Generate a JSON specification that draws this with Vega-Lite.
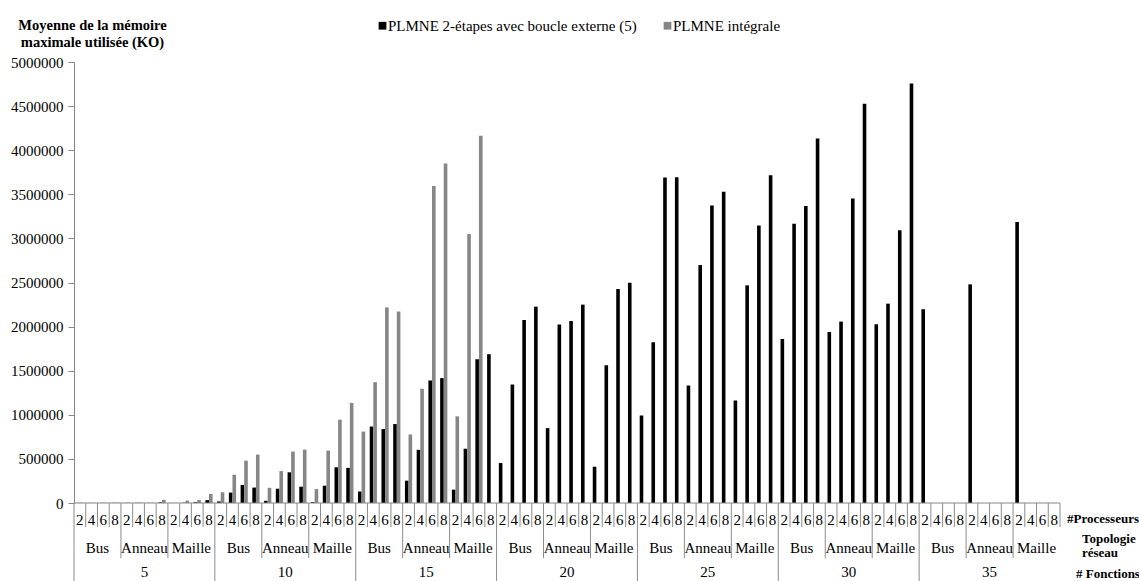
{
  "$schema": "https://vega.github.io/schema/vega-lite/v6.json",
  "width": 986,
  "height": 519,
  "autosize": {"type": "none"},
  "padding": {"left": 74, "top": 62, "right": 79, "bottom": 0},
  "background": "white",
  "config": {"view": {"stroke": null}, "font": "Times New Roman, Liberation Serif, DejaVu Serif, serif"},
  "datasets": {
    "groups": [
      {"g": "5|Bus|2", "f": "5", "t": "Bus", "p": "2"}, {"g": "5|Bus|4", "f": "5", "t": "Bus", "p": "4"}, {"g": "5|Bus|6", "f": "5", "t": "Bus", "p": "6"}, {"g": "5|Bus|8", "f": "5", "t": "Bus", "p": "8"},
      {"g": "5|Anneau|2", "f": "5", "t": "Anneau", "p": "2"}, {"g": "5|Anneau|4", "f": "5", "t": "Anneau", "p": "4"}, {"g": "5|Anneau|6", "f": "5", "t": "Anneau", "p": "6"}, {"g": "5|Anneau|8", "f": "5", "t": "Anneau", "p": "8"},
      {"g": "5|Maille|2", "f": "5", "t": "Maille", "p": "2"}, {"g": "5|Maille|4", "f": "5", "t": "Maille", "p": "4"}, {"g": "5|Maille|6", "f": "5", "t": "Maille", "p": "6"}, {"g": "5|Maille|8", "f": "5", "t": "Maille", "p": "8"},
      {"g": "10|Bus|2", "f": "10", "t": "Bus", "p": "2"}, {"g": "10|Bus|4", "f": "10", "t": "Bus", "p": "4"}, {"g": "10|Bus|6", "f": "10", "t": "Bus", "p": "6"}, {"g": "10|Bus|8", "f": "10", "t": "Bus", "p": "8"},
      {"g": "10|Anneau|2", "f": "10", "t": "Anneau", "p": "2"}, {"g": "10|Anneau|4", "f": "10", "t": "Anneau", "p": "4"}, {"g": "10|Anneau|6", "f": "10", "t": "Anneau", "p": "6"}, {"g": "10|Anneau|8", "f": "10", "t": "Anneau", "p": "8"},
      {"g": "10|Maille|2", "f": "10", "t": "Maille", "p": "2"}, {"g": "10|Maille|4", "f": "10", "t": "Maille", "p": "4"}, {"g": "10|Maille|6", "f": "10", "t": "Maille", "p": "6"}, {"g": "10|Maille|8", "f": "10", "t": "Maille", "p": "8"},
      {"g": "15|Bus|2", "f": "15", "t": "Bus", "p": "2"}, {"g": "15|Bus|4", "f": "15", "t": "Bus", "p": "4"}, {"g": "15|Bus|6", "f": "15", "t": "Bus", "p": "6"}, {"g": "15|Bus|8", "f": "15", "t": "Bus", "p": "8"},
      {"g": "15|Anneau|2", "f": "15", "t": "Anneau", "p": "2"}, {"g": "15|Anneau|4", "f": "15", "t": "Anneau", "p": "4"}, {"g": "15|Anneau|6", "f": "15", "t": "Anneau", "p": "6"}, {"g": "15|Anneau|8", "f": "15", "t": "Anneau", "p": "8"},
      {"g": "15|Maille|2", "f": "15", "t": "Maille", "p": "2"}, {"g": "15|Maille|4", "f": "15", "t": "Maille", "p": "4"}, {"g": "15|Maille|6", "f": "15", "t": "Maille", "p": "6"}, {"g": "15|Maille|8", "f": "15", "t": "Maille", "p": "8"},
      {"g": "20|Bus|2", "f": "20", "t": "Bus", "p": "2"}, {"g": "20|Bus|4", "f": "20", "t": "Bus", "p": "4"}, {"g": "20|Bus|6", "f": "20", "t": "Bus", "p": "6"}, {"g": "20|Bus|8", "f": "20", "t": "Bus", "p": "8"},
      {"g": "20|Anneau|2", "f": "20", "t": "Anneau", "p": "2"}, {"g": "20|Anneau|4", "f": "20", "t": "Anneau", "p": "4"}, {"g": "20|Anneau|6", "f": "20", "t": "Anneau", "p": "6"}, {"g": "20|Anneau|8", "f": "20", "t": "Anneau", "p": "8"},
      {"g": "20|Maille|2", "f": "20", "t": "Maille", "p": "2"}, {"g": "20|Maille|4", "f": "20", "t": "Maille", "p": "4"}, {"g": "20|Maille|6", "f": "20", "t": "Maille", "p": "6"}, {"g": "20|Maille|8", "f": "20", "t": "Maille", "p": "8"},
      {"g": "25|Bus|2", "f": "25", "t": "Bus", "p": "2"}, {"g": "25|Bus|4", "f": "25", "t": "Bus", "p": "4"}, {"g": "25|Bus|6", "f": "25", "t": "Bus", "p": "6"}, {"g": "25|Bus|8", "f": "25", "t": "Bus", "p": "8"},
      {"g": "25|Anneau|2", "f": "25", "t": "Anneau", "p": "2"}, {"g": "25|Anneau|4", "f": "25", "t": "Anneau", "p": "4"}, {"g": "25|Anneau|6", "f": "25", "t": "Anneau", "p": "6"}, {"g": "25|Anneau|8", "f": "25", "t": "Anneau", "p": "8"},
      {"g": "25|Maille|2", "f": "25", "t": "Maille", "p": "2"}, {"g": "25|Maille|4", "f": "25", "t": "Maille", "p": "4"}, {"g": "25|Maille|6", "f": "25", "t": "Maille", "p": "6"}, {"g": "25|Maille|8", "f": "25", "t": "Maille", "p": "8"},
      {"g": "30|Bus|2", "f": "30", "t": "Bus", "p": "2"}, {"g": "30|Bus|4", "f": "30", "t": "Bus", "p": "4"}, {"g": "30|Bus|6", "f": "30", "t": "Bus", "p": "6"}, {"g": "30|Bus|8", "f": "30", "t": "Bus", "p": "8"},
      {"g": "30|Anneau|2", "f": "30", "t": "Anneau", "p": "2"}, {"g": "30|Anneau|4", "f": "30", "t": "Anneau", "p": "4"}, {"g": "30|Anneau|6", "f": "30", "t": "Anneau", "p": "6"}, {"g": "30|Anneau|8", "f": "30", "t": "Anneau", "p": "8"},
      {"g": "30|Maille|2", "f": "30", "t": "Maille", "p": "2"}, {"g": "30|Maille|4", "f": "30", "t": "Maille", "p": "4"}, {"g": "30|Maille|6", "f": "30", "t": "Maille", "p": "6"}, {"g": "30|Maille|8", "f": "30", "t": "Maille", "p": "8"},
      {"g": "35|Bus|2", "f": "35", "t": "Bus", "p": "2"}, {"g": "35|Bus|4", "f": "35", "t": "Bus", "p": "4"}, {"g": "35|Bus|6", "f": "35", "t": "Bus", "p": "6"}, {"g": "35|Bus|8", "f": "35", "t": "Bus", "p": "8"},
      {"g": "35|Anneau|2", "f": "35", "t": "Anneau", "p": "2"}, {"g": "35|Anneau|4", "f": "35", "t": "Anneau", "p": "4"}, {"g": "35|Anneau|6", "f": "35", "t": "Anneau", "p": "6"}, {"g": "35|Anneau|8", "f": "35", "t": "Anneau", "p": "8"},
      {"g": "35|Maille|2", "f": "35", "t": "Maille", "p": "2"}, {"g": "35|Maille|4", "f": "35", "t": "Maille", "p": "4"}, {"g": "35|Maille|6", "f": "35", "t": "Maille", "p": "6"}, {"g": "35|Maille|8", "f": "35", "t": "Maille", "p": "8"}
    ],
    "bars": [
      {"g": "5|Bus|2", "s": "PLMNE 2-étapes avec boucle externe (5)", "v": 1000}, {"g": "5|Bus|2", "s": "PLMNE intégrale", "v": 3000},
      {"g": "5|Bus|4", "s": "PLMNE 2-étapes avec boucle externe (5)", "v": 1000}, {"g": "5|Bus|4", "s": "PLMNE intégrale", "v": 1500},
      {"g": "5|Bus|6", "s": "PLMNE 2-étapes avec boucle externe (5)", "v": 1500}, {"g": "5|Bus|6", "s": "PLMNE intégrale", "v": 3500},
      {"g": "5|Bus|8", "s": "PLMNE 2-étapes avec boucle externe (5)", "v": 2000}, {"g": "5|Bus|8", "s": "PLMNE intégrale", "v": 4500},
      {"g": "5|Anneau|2", "s": "PLMNE 2-étapes avec boucle externe (5)", "v": 1500}, {"g": "5|Anneau|2", "s": "PLMNE intégrale", "v": 4000},
      {"g": "5|Anneau|4", "s": "PLMNE 2-étapes avec boucle externe (5)", "v": 2000}, {"g": "5|Anneau|4", "s": "PLMNE intégrale", "v": 4500},
      {"g": "5|Anneau|6", "s": "PLMNE 2-étapes avec boucle externe (5)", "v": 1500}, {"g": "5|Anneau|6", "s": "PLMNE intégrale", "v": 2500},
      {"g": "5|Anneau|8", "s": "PLMNE 2-étapes avec boucle externe (5)", "v": 8000}, {"g": "5|Anneau|8", "s": "PLMNE intégrale", "v": 36000},
      {"g": "5|Maille|2", "s": "PLMNE 2-étapes avec boucle externe (5)", "v": 1000}, {"g": "5|Maille|2", "s": "PLMNE intégrale", "v": 2000},
      {"g": "5|Maille|4", "s": "PLMNE 2-étapes avec boucle externe (5)", "v": 3000}, {"g": "5|Maille|4", "s": "PLMNE intégrale", "v": 27000},
      {"g": "5|Maille|6", "s": "PLMNE 2-étapes avec boucle externe (5)", "v": 10000}, {"g": "5|Maille|6", "s": "PLMNE intégrale", "v": 34000},
      {"g": "5|Maille|8", "s": "PLMNE 2-étapes avec boucle externe (5)", "v": 32000}, {"g": "5|Maille|8", "s": "PLMNE intégrale", "v": 103000},
      {"g": "10|Bus|2", "s": "PLMNE 2-étapes avec boucle externe (5)", "v": 18000}, {"g": "10|Bus|2", "s": "PLMNE intégrale", "v": 122000},
      {"g": "10|Bus|4", "s": "PLMNE 2-étapes avec boucle externe (5)", "v": 118000}, {"g": "10|Bus|4", "s": "PLMNE intégrale", "v": 320000},
      {"g": "10|Bus|6", "s": "PLMNE 2-étapes avec boucle externe (5)", "v": 205000}, {"g": "10|Bus|6", "s": "PLMNE intégrale", "v": 480000},
      {"g": "10|Bus|8", "s": "PLMNE 2-étapes avec boucle externe (5)", "v": 175000}, {"g": "10|Bus|8", "s": "PLMNE intégrale", "v": 548000},
      {"g": "10|Anneau|2", "s": "PLMNE 2-étapes avec boucle externe (5)", "v": 25000}, {"g": "10|Anneau|2", "s": "PLMNE intégrale", "v": 172000},
      {"g": "10|Anneau|4", "s": "PLMNE 2-étapes avec boucle externe (5)", "v": 162000}, {"g": "10|Anneau|4", "s": "PLMNE intégrale", "v": 362000},
      {"g": "10|Anneau|6", "s": "PLMNE 2-étapes avec boucle externe (5)", "v": 348000}, {"g": "10|Anneau|6", "s": "PLMNE intégrale", "v": 583000},
      {"g": "10|Anneau|8", "s": "PLMNE 2-étapes avec boucle externe (5)", "v": 185000}, {"g": "10|Anneau|8", "s": "PLMNE intégrale", "v": 606000},
      {"g": "10|Maille|2", "s": "PLMNE 2-étapes avec boucle externe (5)", "v": 10000}, {"g": "10|Maille|2", "s": "PLMNE intégrale", "v": 158000},
      {"g": "10|Maille|4", "s": "PLMNE 2-étapes avec boucle externe (5)", "v": 196000}, {"g": "10|Maille|4", "s": "PLMNE intégrale", "v": 594000},
      {"g": "10|Maille|6", "s": "PLMNE 2-étapes avec boucle externe (5)", "v": 405000}, {"g": "10|Maille|6", "s": "PLMNE intégrale", "v": 945000},
      {"g": "10|Maille|8", "s": "PLMNE 2-étapes avec boucle externe (5)", "v": 398000}, {"g": "10|Maille|8", "s": "PLMNE intégrale", "v": 1135000},
      {"g": "15|Bus|2", "s": "PLMNE 2-étapes avec boucle externe (5)", "v": 130000}, {"g": "15|Bus|2", "s": "PLMNE intégrale", "v": 810000},
      {"g": "15|Bus|4", "s": "PLMNE 2-étapes avec boucle externe (5)", "v": 867000}, {"g": "15|Bus|4", "s": "PLMNE intégrale", "v": 1370000},
      {"g": "15|Bus|6", "s": "PLMNE 2-étapes avec boucle externe (5)", "v": 838000}, {"g": "15|Bus|6", "s": "PLMNE intégrale", "v": 2218000},
      {"g": "15|Bus|8", "s": "PLMNE 2-étapes avec boucle externe (5)", "v": 895000}, {"g": "15|Bus|8", "s": "PLMNE intégrale", "v": 2170000},
      {"g": "15|Anneau|2", "s": "PLMNE 2-étapes avec boucle externe (5)", "v": 253000}, {"g": "15|Anneau|2", "s": "PLMNE intégrale", "v": 777000},
      {"g": "15|Anneau|4", "s": "PLMNE 2-étapes avec boucle externe (5)", "v": 603000}, {"g": "15|Anneau|4", "s": "PLMNE intégrale", "v": 1295000},
      {"g": "15|Anneau|6", "s": "PLMNE 2-étapes avec boucle externe (5)", "v": 1389000}, {"g": "15|Anneau|6", "s": "PLMNE intégrale", "v": 3593000},
      {"g": "15|Anneau|8", "s": "PLMNE 2-étapes avec boucle externe (5)", "v": 1416000}, {"g": "15|Anneau|8", "s": "PLMNE intégrale", "v": 3850000},
      {"g": "15|Maille|2", "s": "PLMNE 2-étapes avec boucle externe (5)", "v": 151000}, {"g": "15|Maille|2", "s": "PLMNE intégrale", "v": 982000},
      {"g": "15|Maille|4", "s": "PLMNE 2-étapes avec boucle externe (5)", "v": 615000}, {"g": "15|Maille|4", "s": "PLMNE intégrale", "v": 3050000},
      {"g": "15|Maille|6", "s": "PLMNE 2-étapes avec boucle externe (5)", "v": 1630000}, {"g": "15|Maille|6", "s": "PLMNE intégrale", "v": 4163000},
      {"g": "15|Maille|8", "s": "PLMNE 2-étapes avec boucle externe (5)", "v": 1687000},
      {"g": "20|Bus|2", "s": "PLMNE 2-étapes avec boucle externe (5)", "v": 453000},
      {"g": "20|Bus|4", "s": "PLMNE 2-étapes avec boucle externe (5)", "v": 1343000},
      {"g": "20|Bus|6", "s": "PLMNE 2-étapes avec boucle externe (5)", "v": 2075000},
      {"g": "20|Bus|8", "s": "PLMNE 2-étapes avec boucle externe (5)", "v": 2226000},
      {"g": "20|Anneau|2", "s": "PLMNE 2-étapes avec boucle externe (5)", "v": 849000},
      {"g": "20|Anneau|4", "s": "PLMNE 2-étapes avec boucle externe (5)", "v": 2023000},
      {"g": "20|Anneau|6", "s": "PLMNE 2-étapes avec boucle externe (5)", "v": 2064000},
      {"g": "20|Anneau|8", "s": "PLMNE 2-étapes avec boucle externe (5)", "v": 2249000},
      {"g": "20|Maille|2", "s": "PLMNE 2-étapes avec boucle externe (5)", "v": 411000},
      {"g": "20|Maille|4", "s": "PLMNE 2-étapes avec boucle externe (5)", "v": 1562000},
      {"g": "20|Maille|6", "s": "PLMNE 2-étapes avec boucle externe (5)", "v": 2426000},
      {"g": "20|Maille|8", "s": "PLMNE 2-étapes avec boucle externe (5)", "v": 2498000},
      {"g": "25|Bus|2", "s": "PLMNE 2-étapes avec boucle externe (5)", "v": 992000},
      {"g": "25|Bus|4", "s": "PLMNE 2-étapes avec boucle externe (5)", "v": 1823000},
      {"g": "25|Bus|6", "s": "PLMNE 2-étapes avec boucle externe (5)", "v": 3691000},
      {"g": "25|Bus|8", "s": "PLMNE 2-étapes avec boucle externe (5)", "v": 3694000},
      {"g": "25|Anneau|2", "s": "PLMNE 2-étapes avec boucle externe (5)", "v": 1332000},
      {"g": "25|Anneau|4", "s": "PLMNE 2-étapes avec boucle externe (5)", "v": 2698000},
      {"g": "25|Anneau|6", "s": "PLMNE 2-étapes avec boucle externe (5)", "v": 3374000},
      {"g": "25|Anneau|8", "s": "PLMNE 2-étapes avec boucle externe (5)", "v": 3528000},
      {"g": "25|Maille|2", "s": "PLMNE 2-étapes avec boucle externe (5)", "v": 1162000},
      {"g": "25|Maille|4", "s": "PLMNE 2-étapes avec boucle externe (5)", "v": 2468000},
      {"g": "25|Maille|6", "s": "PLMNE 2-étapes avec boucle externe (5)", "v": 3147000},
      {"g": "25|Maille|8", "s": "PLMNE 2-étapes avec boucle externe (5)", "v": 3717000},
      {"g": "30|Bus|2", "s": "PLMNE 2-étapes avec boucle externe (5)", "v": 1860000},
      {"g": "30|Bus|4", "s": "PLMNE 2-étapes avec boucle externe (5)", "v": 3166000},
      {"g": "30|Bus|6", "s": "PLMNE 2-étapes avec boucle externe (5)", "v": 3366000},
      {"g": "30|Bus|8", "s": "PLMNE 2-étapes avec boucle externe (5)", "v": 4132000},
      {"g": "30|Anneau|2", "s": "PLMNE 2-étapes avec boucle externe (5)", "v": 1940000},
      {"g": "30|Anneau|4", "s": "PLMNE 2-étapes avec boucle externe (5)", "v": 2057000},
      {"g": "30|Anneau|6", "s": "PLMNE 2-étapes avec boucle externe (5)", "v": 3453000},
      {"g": "30|Anneau|8", "s": "PLMNE 2-étapes avec boucle externe (5)", "v": 4528000},
      {"g": "30|Maille|2", "s": "PLMNE 2-étapes avec boucle externe (5)", "v": 2026000},
      {"g": "30|Maille|4", "s": "PLMNE 2-étapes avec boucle externe (5)", "v": 2260000},
      {"g": "30|Maille|6", "s": "PLMNE 2-étapes avec boucle externe (5)", "v": 3091000},
      {"g": "30|Maille|8", "s": "PLMNE 2-étapes avec boucle externe (5)", "v": 4755000},
      {"g": "35|Bus|2", "s": "PLMNE 2-étapes avec boucle externe (5)", "v": 2196000},
      {"g": "35|Anneau|2", "s": "PLMNE 2-étapes avec boucle externe (5)", "v": 2479000},
      {"g": "35|Maille|2", "s": "PLMNE 2-étapes avec boucle externe (5)", "v": 3185000}
    ]
  },
  "layer": [
    {
      "data": {"name": "bars"},
      "mark": {"type": "bar"},
      "encoding": {
        "x": {
          "field": "g", "type": "nominal", "axis": null,
          "scale": {
            "paddingInner": 0, "paddingOuter": 0,
            "domain": ["5|Bus|2","5|Bus|4","5|Bus|6","5|Bus|8","5|Anneau|2","5|Anneau|4","5|Anneau|6","5|Anneau|8","5|Maille|2","5|Maille|4","5|Maille|6","5|Maille|8",
              "10|Bus|2","10|Bus|4","10|Bus|6","10|Bus|8","10|Anneau|2","10|Anneau|4","10|Anneau|6","10|Anneau|8","10|Maille|2","10|Maille|4","10|Maille|6","10|Maille|8",
              "15|Bus|2","15|Bus|4","15|Bus|6","15|Bus|8","15|Anneau|2","15|Anneau|4","15|Anneau|6","15|Anneau|8","15|Maille|2","15|Maille|4","15|Maille|6","15|Maille|8",
              "20|Bus|2","20|Bus|4","20|Bus|6","20|Bus|8","20|Anneau|2","20|Anneau|4","20|Anneau|6","20|Anneau|8","20|Maille|2","20|Maille|4","20|Maille|6","20|Maille|8",
              "25|Bus|2","25|Bus|4","25|Bus|6","25|Bus|8","25|Anneau|2","25|Anneau|4","25|Anneau|6","25|Anneau|8","25|Maille|2","25|Maille|4","25|Maille|6","25|Maille|8",
              "30|Bus|2","30|Bus|4","30|Bus|6","30|Bus|8","30|Anneau|2","30|Anneau|4","30|Anneau|6","30|Anneau|8","30|Maille|2","30|Maille|4","30|Maille|6","30|Maille|8",
              "35|Bus|2","35|Bus|4","35|Bus|6","35|Bus|8","35|Anneau|2","35|Anneau|4","35|Anneau|6","35|Anneau|8","35|Maille|2","35|Maille|4","35|Maille|6","35|Maille|8"]
          }
        },
        "xOffset": {
          "field": "s", "type": "nominal",
          "scale": {"domain": ["PLMNE 2-étapes avec boucle externe (5)", "PLMNE intégrale"], "paddingInner": 0, "paddingOuter": 0.63}
        },
        "y": {
          "field": "v", "type": "quantitative",
          "scale": {"domain": [0, 5000000], "range": [441, 0], "nice": false},
          "axis": {
            "orient": "left",
            "values": [0, 500000, 1000000, 1500000, 2000000, 2500000, 3000000, 3500000, 4000000, 4500000, 5000000],
            "format": "d", "grid": false,
            "labelFont": "Times New Roman, Liberation Serif, DejaVu Serif, serif", "labelFontSize": 15, "labelColor": "#000000", "labelPadding": 5,
            "tickSize": 6, "tickColor": "#868686", "domainColor": "#868686",
            "title": ["Moyenne de la mémoire", "maximale utilisée (KO)"],
            "titleFont": "Times New Roman, Liberation Serif, DejaVu Serif, serif", "titleFontSize": 14.5, "titleFontWeight": "bold", "titleColor": "#000000",
            "titleAngle": 0, "titleAlign": "center", "titleBaseline": "middle", "titleX": 18, "titleY": -37, "titleLineHeight": 17
          }
        },
        "color": {
          "field": "s", "type": "nominal",
          "scale": {"domain": ["PLMNE 2-étapes avec boucle externe (5)", "PLMNE intégrale"], "range": ["#000000", "#868686"]},
          "legend": {
            "orient": "none", "legendX": 301, "legendY": -44, "direction": "horizontal", "title": null,
            "symbolType": "square", "symbolSize": 60, "symbolStrokeWidth": 0,
            "labelFont": "Times New Roman, Liberation Serif, DejaVu Serif, serif", "labelFontSize": 15, "labelColor": "#000000", "labelOffset": -2,
            "columnPadding": 23, "padding": 0, "labelLimit": 400
          }
        }
      }
    },
    {
      "data": {"name": "groups"},
      "layer": [
        {
          "data": {"values": [{}]},
          "mark": {"type": "rule", "color": "#868686"},
          "encoding": {
            "y": {"datum": 0, "type": "quantitative", "scale": {"domain": [0, 3.25], "range": [441, 519], "nice": false, "zero": false}, "axis": null}
          }
        },
        {
          "transform": [{"filter": "datum.p != '2'"}],
          "mark": {"type": "rule", "color": "#8c8c8c"},
          "encoding": {
            "x": {"field": "g", "type": "nominal", "bandPosition": 0, "axis": null},
            "y": {"datum": 0, "type": "quantitative", "scale": {"domain": [0, 3.25], "range": [441, 519], "nice": false, "zero": false}, "axis": null},
            "y2": {"datum": 1}
          }
        },
        {
          "transform": [{"filter": "datum.g == '35|Maille|8'"}],
          "mark": {"type": "rule", "color": "#8c8c8c"},
          "encoding": {
            "x": {"field": "g", "type": "nominal", "bandPosition": 1, "axis": null},
            "y": {"datum": 0, "type": "quantitative", "scale": {"domain": [0, 3.25], "range": [441, 519], "nice": false, "zero": false}, "axis": null},
            "y2": {"datum": 1}
          }
        },
        {
          "transform": [{"filter": "datum.p == '2' && datum.t != 'Bus'"}],
          "mark": {"type": "rule", "color": "#8c8c8c"},
          "encoding": {
            "x": {"field": "g", "type": "nominal", "bandPosition": 0, "axis": null},
            "y": {"datum": 0, "type": "quantitative", "scale": {"domain": [0, 3.25], "range": [441, 519], "nice": false, "zero": false}, "axis": null},
            "y2": {"datum": 2.3}
          }
        },
        {
          "transform": [{"filter": "datum.p == '2' && datum.t == 'Bus'"}],
          "mark": {"type": "rule", "color": "#8c8c8c"},
          "encoding": {
            "x": {"field": "g", "type": "nominal", "bandPosition": 0, "axis": null},
            "y": {"datum": 0, "type": "quantitative", "scale": {"domain": [0, 3.25], "range": [441, 519], "nice": false, "zero": false}, "axis": null},
            "y2": {"datum": 3.25}
          }
        },
        {
          "mark": {"type": "text", "font": "Times New Roman, Liberation Serif, DejaVu Serif, serif", "fontSize": 15, "color": "#000000", "baseline": "middle", "align": "center"},
          "encoding": {
            "x": {"field": "g", "type": "nominal", "axis": null},
            "y": {"datum": 0.7, "type": "quantitative", "scale": {"domain": [0, 3.25], "range": [441, 519], "nice": false, "zero": false}, "axis": null},
            "text": {"field": "p"}
          }
        },
        {
          "transform": [{"filter": "datum.p == '4'"}],
          "mark": {"type": "text", "font": "Times New Roman, Liberation Serif, DejaVu Serif, serif", "fontSize": 15, "color": "#000000", "baseline": "middle", "align": "center"},
          "encoding": {
            "x": {"field": "g", "type": "nominal", "bandPosition": 1, "axis": null},
            "y": {"datum": 1.86, "type": "quantitative", "scale": {"domain": [0, 3.25], "range": [441, 519], "nice": false, "zero": false}, "axis": null},
            "text": {"field": "t"}
          }
        },
        {
          "transform": [{"filter": "datum.p == '4' && datum.t == 'Anneau'"}],
          "mark": {"type": "text", "font": "Times New Roman, Liberation Serif, DejaVu Serif, serif", "fontSize": 15, "color": "#000000", "baseline": "middle", "align": "center"},
          "encoding": {
            "x": {"field": "g", "type": "nominal", "bandPosition": 1, "axis": null},
            "y": {"datum": 2.86, "type": "quantitative", "scale": {"domain": [0, 3.25], "range": [441, 519], "nice": false, "zero": false}, "axis": null},
            "text": {"field": "f"}
          }
        },
        {
          "data": {"values": [{}]},
          "mark": {"type": "text", "font": "Times New Roman, Liberation Serif, DejaVu Serif, serif", "fontSize": 13, "fontWeight": "bold", "color": "#000000", "baseline": "middle", "align": "left", "dx": 7},
          "encoding": {
            "x": {"datum": "35|Maille|8", "type": "nominal", "bandPosition": 1, "axis": null},
            "y": {"datum": 0.65, "type": "quantitative", "scale": {"domain": [0, 3.25], "range": [441, 519], "nice": false, "zero": false}, "axis": null},
            "text": {"value": "#Processeurs"}
          }
        },
        {
          "data": {"values": [{}]},
          "mark": {"type": "text", "font": "Times New Roman, Liberation Serif, DejaVu Serif, serif", "fontSize": 13, "fontWeight": "bold", "color": "#000000", "baseline": "middle", "align": "left", "dx": 22, "lineHeight": 14},
          "encoding": {
            "x": {"datum": "35|Maille|8", "type": "nominal", "bandPosition": 1, "axis": null},
            "y": {"datum": 1.5, "type": "quantitative", "scale": {"domain": [0, 3.25], "range": [441, 519], "nice": false, "zero": false}, "axis": null},
            "text": {"value": ["Topologie", "réseau"]}
          }
        },
        {
          "data": {"values": [{}]},
          "mark": {"type": "text", "font": "Times New Roman, Liberation Serif, DejaVu Serif, serif", "fontSize": 13, "fontWeight": "bold", "color": "#000000", "baseline": "middle", "align": "left", "dx": 16},
          "encoding": {
            "x": {"datum": "35|Maille|8", "type": "nominal", "bandPosition": 1, "axis": null},
            "y": {"datum": 2.95, "type": "quantitative", "scale": {"domain": [0, 3.25], "range": [441, 519], "nice": false, "zero": false}, "axis": null},
            "text": {"value": "# Fonctions"}
          }
        }
      ]
    }
  ],
  "resolve": {"scale": {"y": "independent"}, "axis": {"y": "independent"}}
}
